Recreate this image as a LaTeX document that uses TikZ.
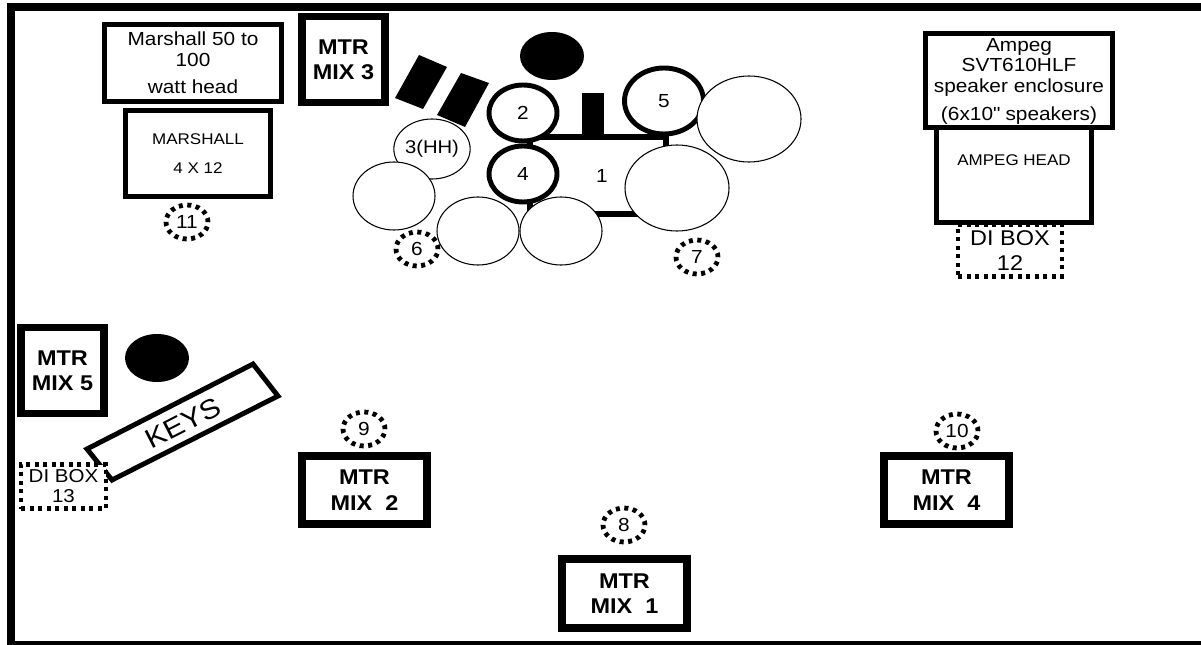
\documentclass[tikz,border=0pt]{standalone}
\usepackage{fontspec}
\setmainfont[FakeStretch=1.1]{Liberation Sans}
\usetikzlibrary{shapes.geometric}
\tikzset{
	boxsize/.style 2 args={minimum width=#1*0.75pt,minimum height=#2*0.75pt},
	plainfont/.style={font=\fontsize{14.2}{15.5}\selectfont},
	mixbox/.style={draw,fill=white,line width=5.5pt,inner sep=0pt,align=center,font=\bfseries\fontsize{16}{19}\selectfont},
	ampbox/.style={draw,fill=white,line width=3.7pt,inner sep=0pt,align=center,plainfont},
	dibox/.style={draw,fill=white,line width=3.4pt,dash pattern=on 3pt off 3.4pt,inner sep=0pt,align=center},
	numring/.style={ellipse,draw,line width=3.6pt,dash pattern=on 3pt off 3.4pt,inner sep=0pt,boxsize={42}{34},plainfont},
	drum/.style={ellipse,draw,fill=white,line width=0.8pt,inner sep=0pt,plainfont},
	tom/.style={ellipse,draw,fill=white,line width=3.7pt,inner sep=0pt,plainfont},
}
\begin{document}
\begin{tikzpicture}[x=0.75pt,y=-0.75pt]
	\useasboundingbox (0,0) rectangle (1201,645);
	% outer edge of the stage, open on the right
	\draw[line width=5.6pt] (1201,7)--(11,7)--(11,644.5)--(1201,644.5);
	% guitar side
	\node[ampbox,boxsize={177}{77.5}] (marshallhead) at (193,63) {Marshall 50 to\\100\\[5pt]watt head};
	\node[ampbox,boxsize={145}{86},font=\fontsize{11.6}{21.8}\selectfont] (marshallcab) at (198,153.5) {MARSHALL\\4 X 12};
	\node[numring] (ring11) at (187,222) {11};
	\node[mixbox,boxsize={83}{86}] (mix3) at (343.5,59.5) {MTR\\MIX 3};
	% drum kit
	\fill (419,55)--(447,67)--(423,109)--(395,98)--cycle;
	\fill (461,73)--(489,83)--(465,127)--(437,115)--cycle;
	\node[ellipse,fill=black,inner sep=0pt,boxsize={64}{48}] (singer) at (552,56) {};
	\draw[line width=5pt] (530,137) rectangle (666,214);
	\node[inner sep=0pt,plainfont] (kick) at (602,176) {1};
	\fill (582,93) rectangle (604,135);
	\node[drum,boxsize={73}{60},font=\fontsize{13.8}{15}\selectfont] (hihat) at (432,149) {3(HH)};
	\node[tom,boxsize={68}{56}] (tom2) at (523,113) {2};
	\node[tom,boxsize={68}{56}] (tom4) at (523,174) {4};
	\node[tom,boxsize={79}{66}] (tom5) at (664,101) {5};
	\node[drum,boxsize={104}{86}] (cymbalright) at (749,119) {};
	\node[drum,boxsize={104}{86}] (cymbalbig) at (677,188) {};
	\node[drum,boxsize={82}{68}] (cymballeft) at (394,196) {};
	\node[numring] (ring6) at (417,249) {6};
	\node[drum,boxsize={82}{68}] (cymbalmid) at (478,231) {};
	\node[drum,boxsize={82}{68}] (cymbalfront) at (561,231) {};
	\node[numring] (ring7) at (697,257) {7};
	% bass side
	\node[dibox,boxsize={104}{52},anchor=north,font=\fontsize{16}{19}\selectfont] (dibox12) at (1010,222) {DI BOX\\12};
	\node[ampbox,boxsize={187}{94}] (ampegcab) at (1019,80.5) {};
	\node[inner sep=0pt,align=center,font=\fontsize{14.2}{15.4}\selectfont] (ampegtext) at (1019,81.5) {Ampeg\\SVT610HLF\\speaker enclosure\\[6pt](6x10\textquotedbl{} speakers)};
	\node[ampbox,boxsize={155}{94.5},font=\fontsize{11.6}{14}\selectfont,text depth=22pt] (ampeghead) at (1014,175) {AMPEG HEAD};
	% keys
	\node[mixbox,boxsize={83}{86}] (mix5) at (62.5,370.5) {MTR\\MIX 5};
	\node[ellipse,fill=black,inner sep=0pt,boxsize={64}{48}] (keysplayer) at (157,358) {};
	\draw[line width=3.7pt,fill=white] (253,364)--(278,396)--(112,480)--(87,449)--cycle;
	\node[inner sep=0pt,rotate=27,font=\fontsize{20.5}{24}\selectfont] (keys) at (183,423) {KEYS};
	\node[dibox,boxsize={85}{44},font=\fontsize{14}{15}\selectfont] (dibox13) at (63.5,486.5) {DI BOX\\13};
	% monitors
	\node[numring] (ring9) at (364,429) {9};
	\node[mixbox,boxsize={125}{68}] (mix2) at (364.5,490) {MTR\ \\MIX\ \ 2};
	\node[numring] (ring8) at (624,525) {8};
	\node[mixbox,boxsize={125}{69}] (mix1) at (624.5,593.5) {MTR\ \\MIX\ \ 1};
	\node[numring] (ring10) at (957,431) {10};
	\node[mixbox,boxsize={125}{68}] (mix4) at (946.5,490) {MTR\ \\MIX\ \ 4};
\end{tikzpicture}
\end{document}
